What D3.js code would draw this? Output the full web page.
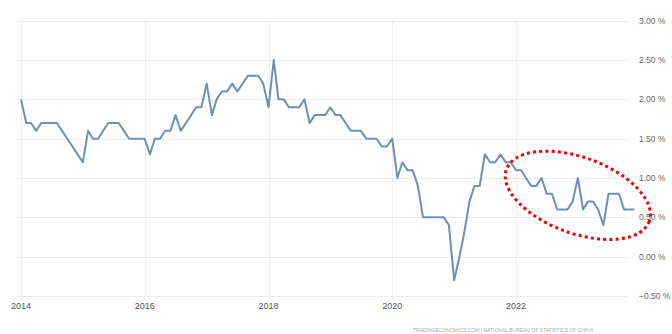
<!DOCTYPE html>
<html>
<head>
<meta charset="utf-8">
<script src="https://cdn.jsdelivr.net/npm/d3@7"></script>
<style>
  html, body { margin: 0; padding: 0; background: #fff; }
  svg { display: block; }
</style>
</head>
<body>
<svg id="chart" width="672" height="334"></svg>
<script>
// Monthly inflation rate, % year on year, January 2014 through December 2023
const firstMonth = "2014-01";
const rates2014 = [2.0, 1.7, 1.7, 1.6, 1.7, 1.7, 1.7, 1.7, 1.6, 1.5, 1.4, 1.3];
const rates2015 = [1.2, 1.6, 1.5, 1.5, 1.6, 1.7, 1.7, 1.7, 1.6, 1.5, 1.5, 1.5];
const rates2016 = [1.5, 1.3, 1.5, 1.5, 1.6, 1.6, 1.8, 1.6, 1.7, 1.8, 1.9, 1.9];
const rates2017 = [2.2, 1.8, 2.0, 2.1, 2.1, 2.2, 2.1, 2.2, 2.3, 2.3, 2.3, 2.2];
const rates2018 = [1.9, 2.5, 2.0, 2.0, 1.9, 1.9, 1.9, 2.0, 1.7, 1.8, 1.8, 1.8];
const rates2019 = [1.9, 1.8, 1.8, 1.7, 1.6, 1.6, 1.6, 1.5, 1.5, 1.5, 1.4, 1.4];
const rates2020 = [1.5, 1.0, 1.2, 1.1, 1.1, 0.9, 0.5, 0.5, 0.5, 0.5, 0.5, 0.4];
const rates2021 = [-0.3, 0.0, 0.3, 0.7, 0.9, 0.9, 1.3, 1.2, 1.2, 1.3, 1.2, 1.2];
const rates2022 = [1.1, 1.1, 1.0, 0.9, 0.9, 1.0, 0.8, 0.8, 0.6, 0.6, 0.6, 0.7];
const rates2023 = [1.0, 0.6, 0.7, 0.7, 0.6, 0.4, 0.8, 0.8, 0.8, 0.6, 0.6, 0.6];

const xTickYears = ["2014", "2016", "2018", "2020", "2022"];
const yTickValues = [3.0, 2.5, 2.0, 1.5, 1.0, 0.5, 0.0, -0.5];

// highlighted recent stretch (centre month and level)
const highlightMonth = "2023-01";
const highlightLevel = 0.78;

const footerText = "TRADINGECONOMICS.COM  |  NATIONAL BUREAU OF STATISTICS OF CHINA";

const parseMonth = d3.timeParse("%Y-%m");
const parseYear = d3.timeParse("%Y");

const allRates = [].concat(rates2014, rates2015, rates2016, rates2017, rates2018,
                           rates2019, rates2020, rates2021, rates2022, rates2023);
const start = parseMonth(firstMonth);
const series = allRates.map((v, i) => ({ date: d3.timeMonth.offset(start, i), value: v }));

const svg = d3.select("#chart");

const x = d3.scaleTime()
  .domain([parseYear("2014"), parseYear("2022")])
  .range([21, 516]);

const y = d3.scaleLinear()
  .domain([-0.5, 3.0])
  .range([296, 20.7]);

// horizontal grid
svg.append("g")
  .selectAll("line")
  .data(yTickValues)
  .join("line")
  .attr("x1", 17)
  .attr("x2", 628)
  .attr("y1", d => Math.round(y(d)) + 0.5)
  .attr("y2", d => Math.round(y(d)) + 0.5)
  .attr("stroke", "#ebebeb")
  .attr("stroke-width", 1);

// vertical grid
svg.append("g")
  .selectAll("line")
  .data(xTickYears)
  .join("line")
  .attr("x1", d => Math.round(x(parseYear(d))) + 0.5)
  .attr("x2", d => Math.round(x(parseYear(d))) + 0.5)
  .attr("y1", 20)
  .attr("y2", 300)
  .attr("stroke", "#eeeeee")
  .attr("stroke-width", 1);

// y axis labels on the right
svg.append("g")
  .selectAll("text")
  .data(yTickValues)
  .join("text")
  .attr("x", 639)
  .attr("y", d => y(d))
  .attr("dy", "0.35em")
  .attr("font-family", "Liberation Sans, Arial, sans-serif")
  .attr("font-size", 8.5)
  .attr("fill", "#666")
  .text(d => d3.format(".2f")(d) + " %");

// x axis labels
svg.append("g")
  .selectAll("text")
  .data(xTickYears)
  .join("text")
  .attr("x", d => x(parseYear(d)))
  .attr("y", 309)
  .attr("text-anchor", "middle")
  .attr("font-family", "Liberation Sans, Arial, sans-serif")
  .attr("font-size", 9)
  .attr("fill", "#555")
  .text(d => d);

// series line
const line = d3.line()
  .x(d => x(d.date))
  .y(d => y(d.value));

svg.append("path")
  .datum(series)
  .attr("d", line)
  .attr("fill", "none")
  .attr("stroke", "#6d90b6")
  .attr("stroke-width", 2)
  .attr("stroke-linejoin", "round");

// dotted red ellipse around the latest readings
const cx = x(parseMonth(highlightMonth));
const cy = y(highlightLevel);
svg.append("ellipse")
  .attr("cx", cx)
  .attr("cy", cy)
  .attr("rx", 76)
  .attr("ry", 38)
  .attr("transform", `rotate(20 ${cx} ${cy})`)
  .attr("fill", "none")
  .attr("stroke", "#e8000b")
  .attr("stroke-width", 3)
  .attr("stroke-dasharray", "3 3.2");

// source footer
svg.append("text")
  .attr("x", 413)
  .attr("y", 332)
  .attr("font-family", "Liberation Sans, Arial, sans-serif")
  .attr("font-size", 5)
  .attr("fill", "#aaa")
  .text(footerText);
</script>
</body>
</html>
